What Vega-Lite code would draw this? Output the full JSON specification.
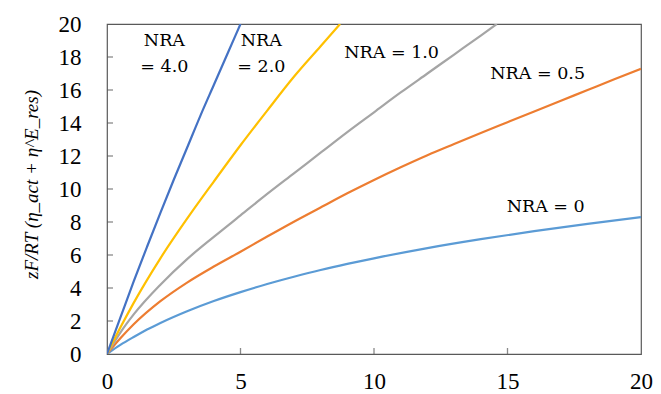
{
  "$schema": "https://vega.github.io/schema/vega-lite/v6.json",
  "width": 534,
  "height": 330,
  "autosize": "none",
  "padding": {"left": 107, "top": 24, "right": 20, "bottom": 40},
  "background": "white",
  "config": {
    "view": {"stroke": "#595959", "strokeWidth": 1.2},
    "axis": {
      "grid": false,
      "domain": false,
      "ticks": false,
      "labelFont": "Liberation Serif",
      "labelFontSize": 23,
      "labelColor": "#000000",
      "labelOverlap": false,
      "labelFlush": false,
      "titleFont": "Liberation Serif",
      "titleColor": "#000000"
    }
  },
  "datasets": {
    "curves": [
      {"NRA": "0", "x": 0, "y": 0}, {"NRA": "0", "x": 0.5, "y": 0.55}, {"NRA": "0", "x": 1, "y": 1.03}, {"NRA": "0", "x": 1.5, "y": 1.48}, {"NRA": "0", "x": 2, "y": 1.88}, {"NRA": "0", "x": 3, "y": 2.59}, {"NRA": "0", "x": 4, "y": 3.21}, {"NRA": "0", "x": 5, "y": 3.75}, {"NRA": "0", "x": 6, "y": 4.24}, {"NRA": "0", "x": 7, "y": 4.68}, {"NRA": "0", "x": 8, "y": 5.09}, {"NRA": "0", "x": 9, "y": 5.46}, {"NRA": "0", "x": 10, "y": 5.8}, {"NRA": "0", "x": 12, "y": 6.42}, {"NRA": "0", "x": 14, "y": 6.96}, {"NRA": "0", "x": 16, "y": 7.45}, {"NRA": "0", "x": 18, "y": 7.89}, {"NRA": "0", "x": 20, "y": 8.3},
      {"NRA": "0.5", "x": 0, "y": 0}, {"NRA": "0.5", "x": 0.5, "y": 0.95}, {"NRA": "0.5", "x": 1, "y": 1.8}, {"NRA": "0.5", "x": 2, "y": 3.2}, {"NRA": "0.5", "x": 3, "y": 4.33}, {"NRA": "0.5", "x": 4, "y": 5.3}, {"NRA": "0.5", "x": 5, "y": 6.2}, {"NRA": "0.5", "x": 6, "y": 7.12}, {"NRA": "0.5", "x": 7, "y": 8.02}, {"NRA": "0.5", "x": 8, "y": 8.88}, {"NRA": "0.5", "x": 9, "y": 9.74}, {"NRA": "0.5", "x": 10, "y": 10.55}, {"NRA": "0.5", "x": 11, "y": 11.32}, {"NRA": "0.5", "x": 12, "y": 12.05}, {"NRA": "0.5", "x": 13, "y": 12.73}, {"NRA": "0.5", "x": 14, "y": 13.4}, {"NRA": "0.5", "x": 15, "y": 14.05}, {"NRA": "0.5", "x": 16, "y": 14.7}, {"NRA": "0.5", "x": 17, "y": 15.35}, {"NRA": "0.5", "x": 18, "y": 16.0}, {"NRA": "0.5", "x": 19, "y": 16.65}, {"NRA": "0.5", "x": 20, "y": 17.29},
      {"NRA": "1.0", "x": 0, "y": 0}, {"NRA": "1.0", "x": 0.5, "y": 1.3}, {"NRA": "1.0", "x": 1, "y": 2.4}, {"NRA": "1.0", "x": 2, "y": 4.2}, {"NRA": "1.0", "x": 3, "y": 5.75}, {"NRA": "1.0", "x": 4, "y": 7.1}, {"NRA": "1.0", "x": 5, "y": 8.4}, {"NRA": "1.0", "x": 6, "y": 9.7}, {"NRA": "1.0", "x": 7, "y": 10.95}, {"NRA": "1.0", "x": 8, "y": 12.2}, {"NRA": "1.0", "x": 9, "y": 13.45}, {"NRA": "1.0", "x": 10, "y": 14.65}, {"NRA": "1.0", "x": 11, "y": 15.85}, {"NRA": "1.0", "x": 12, "y": 17.0}, {"NRA": "1.0", "x": 13, "y": 18.15}, {"NRA": "1.0", "x": 14, "y": 19.3}, {"NRA": "1.0", "x": 14.6, "y": 20},
      {"NRA": "2.0", "x": 0, "y": 0}, {"NRA": "2.0", "x": 0.5, "y": 1.6}, {"NRA": "2.0", "x": 1, "y": 3.1}, {"NRA": "2.0", "x": 2, "y": 5.8}, {"NRA": "2.0", "x": 3, "y": 8.2}, {"NRA": "2.0", "x": 4, "y": 10.45}, {"NRA": "2.0", "x": 5, "y": 12.65}, {"NRA": "2.0", "x": 6, "y": 14.75}, {"NRA": "2.0", "x": 7, "y": 16.8}, {"NRA": "2.0", "x": 8, "y": 18.65}, {"NRA": "2.0", "x": 8.73, "y": 20},
      {"NRA": "4.0", "x": 0, "y": 0}, {"NRA": "4.0", "x": 0.5, "y": 2.2}, {"NRA": "4.0", "x": 1, "y": 4.4}, {"NRA": "4.0", "x": 1.5, "y": 6.5}, {"NRA": "4.0", "x": 2, "y": 8.55}, {"NRA": "4.0", "x": 2.5, "y": 10.56}, {"NRA": "4.0", "x": 3, "y": 12.5}, {"NRA": "4.0", "x": 3.5, "y": 14.45}, {"NRA": "4.0", "x": 4, "y": 16.3}, {"NRA": "4.0", "x": 4.5, "y": 18.15}, {"NRA": "4.0", "x": 5, "y": 20}
    ],
    "labels": [
      {"text": "NRA", "x": 2.15, "y": 18.97},
      {"text": "= 4.0", "x": 2.15, "y": 17.37},
      {"text": "NRA", "x": 5.78, "y": 18.97},
      {"text": "= 2.0", "x": 5.78, "y": 17.37},
      {"text": "NRA = 1.0", "x": 10.66, "y": 18.23},
      {"text": "NRA = 0.5", "x": 16.13, "y": 17.0},
      {"text": "NRA = 0", "x": 16.43, "y": 8.9}
    ],
    "xticks": [
      {"x": 5, "y": 0}, {"x": 10, "y": 0}, {"x": 15, "y": 0}
    ],
    "yticks": [
      {"x": 0, "y": 2}, {"x": 0, "y": 4}, {"x": 0, "y": 6}, {"x": 0, "y": 8}, {"x": 0, "y": 10},
      {"x": 0, "y": 12}, {"x": 0, "y": 14}, {"x": 0, "y": 16}, {"x": 0, "y": 18}
    ]
  },
  "encoding": {
    "x": {
      "field": "x", "type": "quantitative",
      "scale": {"domain": [0, 20], "nice": false},
      "axis": {
        "values": [0, 5, 10, 15, 20],
        "title": null,
        "labelFontSize": 23,
        "labelPadding": 16
      }
    },
    "y": {
      "field": "y", "type": "quantitative",
      "scale": {"domain": [0, 20], "nice": false},
      "axis": {
        "values": [0, 2, 4, 6, 8, 10, 12, 14, 16, 18, 20],
        "labelFontSize": 23,
        "labelPadding": 26,
        "title": "zF/RT (η_act + η^E_res)",
        "titleFontSize": 19,
        "titleFontStyle": "italic",
        "titleFontWeight": "normal",
        "titleAngle": -90,
        "titleX": -76,
        "titleY": 160,
        "titleAlign": "center",
        "titleBaseline": "middle"
      }
    }
  },
  "layer": [
    {
      "data": {"name": "xticks"},
      "mark": {"type": "tick", "orient": "vertical", "size": 12, "thickness": 1.3, "color": "#595959", "clip": true}
    },
    {
      "data": {"name": "yticks"},
      "mark": {"type": "tick", "orient": "horizontal", "size": 12, "thickness": 1.3, "color": "#595959", "clip": true}
    },
    {
      "data": {"name": "curves"},
      "mark": {"type": "line", "strokeWidth": 2.2, "clip": true, "interpolate": "monotone"},
      "encoding": {
        "color": {
          "field": "NRA", "type": "nominal",
          "scale": {"domain": ["0", "0.5", "1.0", "2.0", "4.0"], "range": ["#5B9BD5", "#ED7D31", "#A5A5A5", "#FFC000", "#4472C4"]},
          "legend": null
        }
      }
    },
    {
      "data": {"name": "labels"},
      "mark": {"type": "text", "font": "DejaVu Serif", "fontSize": 17.5, "align": "center", "baseline": "middle", "color": "#000000"},
      "encoding": {
        "text": {"field": "text"}
      }
    }
  ]
}
